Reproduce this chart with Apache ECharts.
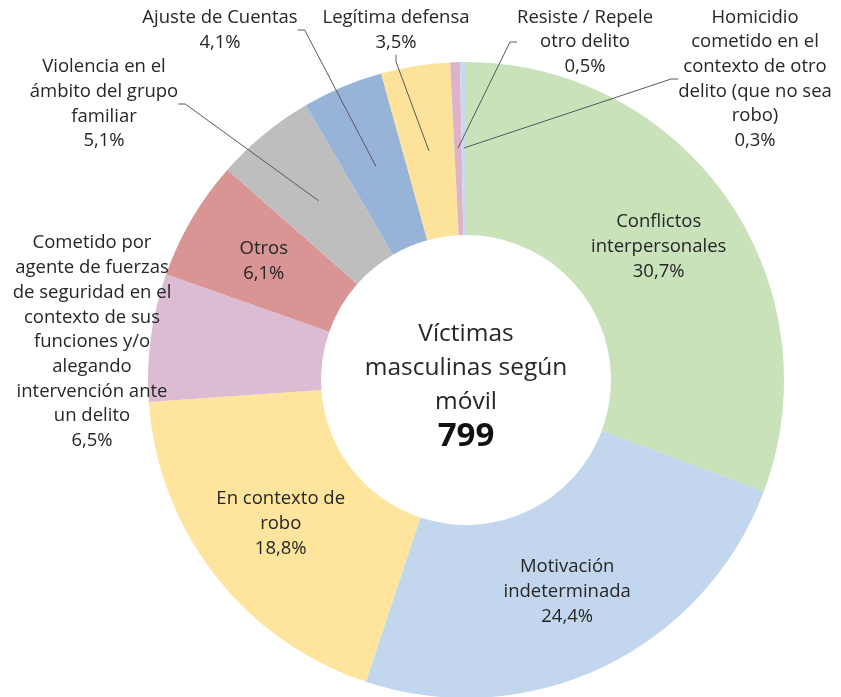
<!DOCTYPE html>
<html>
<head>
<meta charset="utf-8">
<script src="https://cdn.jsdelivr.net/npm/echarts@6/dist/echarts.min.js"></script>
<style>html,body{margin:0;padding:0;background:#fff}#c{width:841px;height:697px}</style>
</head>
<body>
<div id="c"></div>
<script>
// ---- data ----
var categories = [
  'Conflictos\ninterpersonales',
  'Motivación\nindeterminada',
  'En contexto de\nrobo',
  'Cometido por\nagente de fuerzas\nde seguridad en el\ncontexto de sus\nfunciones y/o\nalegando\nintervención ante\nun delito',
  'Otros',
  'Violencia en el\námbito del grupo\nfamiliar',
  'Ajuste de Cuentas',
  'Legítima defensa',
  'Resiste / Repele\notro delito',
  'Homicidio\ncometido en el\ncontexto de otro\ndelito (que no sea\nrobo)'
];
var percentages = [30.7, 24.4, 18.8, 6.5, 6.1, 5.1, 4.1, 3.5, 0.5, 0.3];
var colors = ['#C9E2BA', '#C2D7EE', '#FFE49D', '#DCBCD3', '#D89593', '#BEBEBE', '#97B3D7', '#FDE29A', '#DDB3C9', '#C6D9F0'];
var insideLabel = [true, true, true, false, true, false, false, false, false, false];
var centerTitle = ['Víctimas', 'masculinas según', 'móvil'];
var centerTotal = '799';

// ---- layout (outside label anchors) ----
var outsidePos = {
  3: [92, 342],
  5: [104, 104],
  6: [220, 30],
  7: [396, 30],
  8: [585, 42],
  9: [755, 79]
};

var FONT = '"Open Sans", sans-serif';
var TXT = '#262626';
var FS = 18.5;
function fmtPct(v){ return v.toFixed(1).replace('.', ',') + '%'; }

var dataA = categories.map(function(n, i){
  return {
    name: n, value: percentages[i],
    itemStyle: { color: colors[i] },
    label: { show: insideLabel[i] }
  };
});
var dataB = categories.map(function(n, i){
  return {
    name: n, value: percentages[i],
    label: { show: !insideLabel[i] },
    labelLine: { show: !insideLabel[i] && i !== 3 }
  };
});

var chart = echarts.init(document.getElementById('c'), null, {renderer: 'canvas'});
chart.setOption({
  backgroundColor: '#fff',
  animation: false,
  graphic: [{
    type: 'text',
    x: 466, y: 386,
    style: {
      text: '{a|' + centerTitle.join('}\n{a|') + '}\n{b|' + centerTotal + '}',
      align: 'center', verticalAlign: 'middle',
      rich: {
        a: { fontFamily: FONT, fontSize: 24.5, lineHeight: 34, fill: TXT, align: 'center' },
        b: { fontFamily: FONT, fontSize: 33, fontWeight: 'bold', lineHeight: 36, fill: '#111', align: 'center' }
      }
    }
  }],
  series: [{
    type: 'pie',
    center: [466, 380],
    radius: [145, 318],
    startAngle: 90,
    clockwise: true,
    avoidLabelOverlap: false,
    silent: true,
    itemStyle: { borderWidth: 0 },
    label: {
      position: 'inside',
      fontFamily: FONT, fontSize: FS, lineHeight: 25, color: TXT,
      formatter: function(p){ return p.name + '\n' + fmtPct(p.value); }
    },
    labelLine: { show: false },
    data: dataA
  }, {
    type: 'pie',
    center: [466, 380],
    radius: [0, 232],
    startAngle: 90,
    clockwise: true,
    avoidLabelOverlap: false,
    silent: true,
    z: 5,
    itemStyle: { color: 'rgba(0,0,0,0)', borderWidth: 0 },
    label: {
      position: 'outside',
      fontFamily: FONT, fontSize: FS, lineHeight: 24.7, color: TXT, align: 'center',
      formatter: function(p){ return p.name + '\n' + fmtPct(p.value); }
    },
    labelLine: { length: 10, length2: 7, lineStyle: { color: '#595959', width: 1 } },
    labelLayout: function(p){
      var pos = outsidePos[p.dataIndex];
      if (!pos) return {};
      return { x: pos[0], y: pos[1], align: 'center', verticalAlign: 'middle' };
    },
    data: dataB
  }]
});
</script>
</body>
</html>
